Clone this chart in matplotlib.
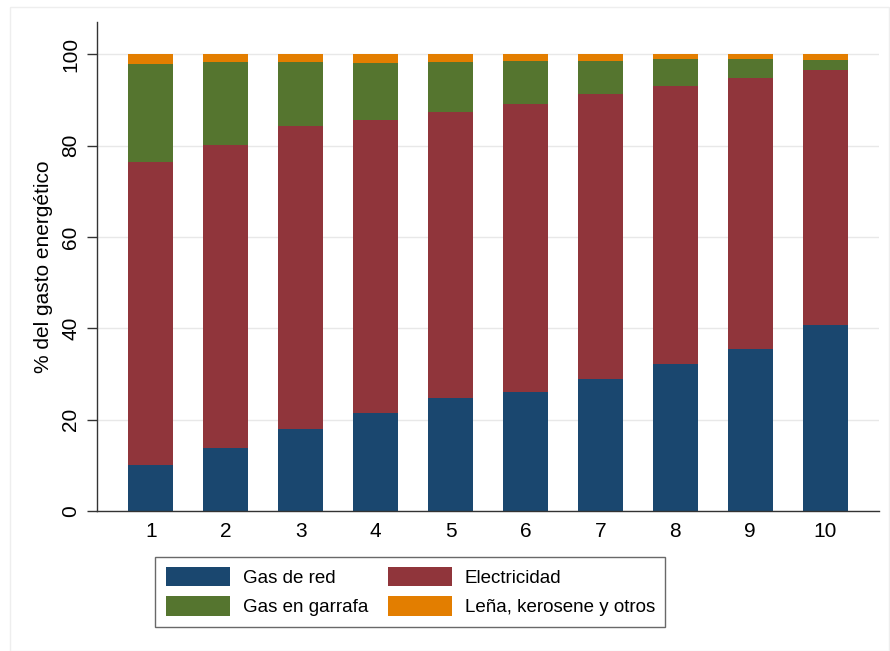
import numpy as np
import matplotlib.pyplot as plt
from matplotlib.patches import Rectangle

plt.rcParams['font.family'] = ['Liberation Sans', 'DejaVu Sans']

# deciles and shares of energy spending (%)
deciles = ['1', '2', '3', '4', '5', '6', '7', '8', '9', '10']
gas_red = [10.1, 13.8, 17.9, 21.5, 24.8, 26.1, 28.9, 32.2, 35.5, 40.7]
electricidad = [66.3, 66.4, 66.3, 64.1, 62.6, 63.0, 62.3, 60.9, 59.2, 55.8]
gas_garrafa = [21.4, 18.1, 14.1, 12.5, 10.9, 9.3, 7.3, 5.8, 4.3, 2.3]
otros = [2.2, 1.7, 1.7, 1.9, 1.7, 1.6, 1.5, 1.1, 1.0, 1.2]

series = [gas_red, electricidad, gas_garrafa, otros]
labels = ['Gas de red', 'Electricidad', 'Gas en garrafa', 'Leña, kerosene y otros']
colors = ['#1a476f', '#90353b', '#55752f', '#e37e00']

fig = plt.figure(figsize=(8.9, 6.51), dpi=100)
ax = fig.add_axes([0.109, 0.215, 0.8786, 0.751])

x = np.arange(1, len(deciles) + 1)
bottom = np.zeros(len(deciles))
handles = []
for vals, lab, col in zip(series, labels, colors):
    b = ax.bar(x, vals, width=0.6, bottom=bottom, color=col, label=lab, zorder=2)
    handles.append(b)
    bottom += np.array(vals)

ax.set_xlim(0.28, 10.72)
ax.set_ylim(0, 107)
ax.set_xticks(x)
ax.set_xticklabels(deciles, fontsize=15)
ax.set_yticks(np.arange(0, 101, 20))
ax.set_yticklabels([str(v) for v in range(0, 101, 20)], fontsize=15, rotation=90, va='center')
ax.tick_params(axis='x', length=0, pad=8)
ax.tick_params(axis='y', length=7, width=1, color='#333333', pad=5)
ax.grid(axis='y', color='#e8e8e8', linewidth=1, zorder=0)
ax.set_axisbelow(True)
for s in ['top', 'right']:
    ax.spines[s].set_visible(False)
for s in ['left', 'bottom']:
    ax.spines[s].set_color('#333333')
    ax.spines[s].set_linewidth(1)
ax.set_ylabel('% del gasto energético', fontsize=15, labelpad=6)

# legend order: row-wise like the original (matplotlib fills by column)
order = [0, 2, 1, 3]
leg = fig.legend([handles[i] for i in order], [labels[i] for i in order],
                 loc='center', ncol=2, bbox_to_anchor=(0.461, 0.091),
                 fontsize=13.5, handlelength=3.45, handleheight=1.2,
                 handletextpad=0.65, columnspacing=1.05, labelspacing=0.5,
                 borderpad=0.55, frameon=True, fancybox=False)
leg.get_frame().set_edgecolor('#444444')
leg.get_frame().set_linewidth(1)

# faint outer frame
fig.patches.append(Rectangle((0.011, 0.0), 0.988, 0.989, transform=fig.transFigure,
                             fill=False, edgecolor='#eeeeee', linewidth=1))

fig.savefig('out.png', dpi=100)
